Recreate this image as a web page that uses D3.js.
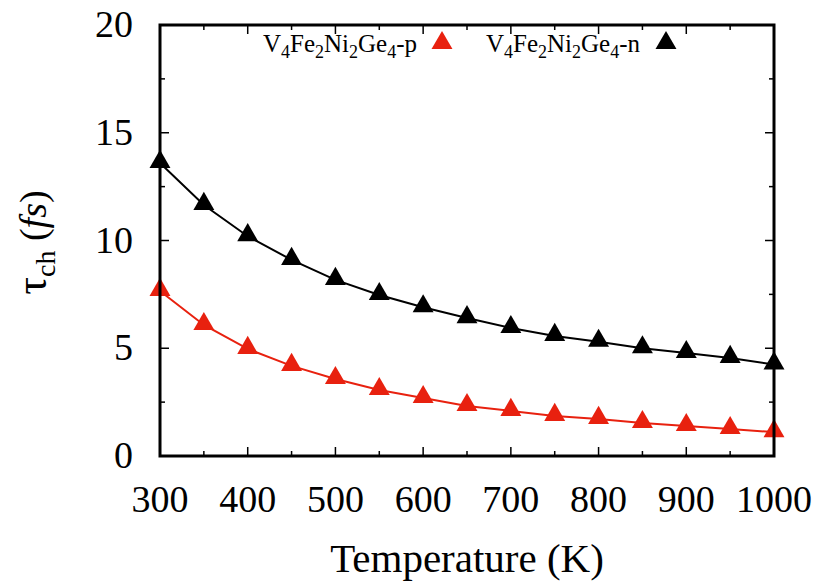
<!DOCTYPE html>
<html>
<head>
<meta charset="utf-8">
<script src="https://d3js.org/d3.v7.min.js"></script>
<style>
  body { margin: 0; background: #fff; }
</style>
</head>
<body>
<div id="chart"></div>
<script>
// data
var temps = [300, 350, 400, 450, 500, 550, 600, 650, 700, 750, 800, 850, 900, 950, 1000];
var tauP = [7.66, 6.08, 4.97, 4.18, 3.57, 3.06, 2.69, 2.32, 2.09, 1.86, 1.72, 1.53, 1.39, 1.25, 1.11];
var tauN = [13.6, 11.65, 10.2, 9.1, 8.17, 7.47, 6.9, 6.4, 5.94, 5.57, 5.3, 5.0, 4.78, 4.55, 4.25];
var xTicks = [300, 400, 500, 600, 700, 800, 900, 1000];
var yTicks = [0, 5, 10, 15, 20];

var W = 824, H = 581;
var margin = {top: 25, right: 50, bottom: 125, left: 160},
    width = W - margin.left - margin.right,
    height = H - margin.top - margin.bottom;
var serif = "'Liberation Serif', 'Times New Roman', Times, 'DejaVu Serif', serif";

var svg = d3.select("#chart")
  .append("svg")
  .attr("width", W)
  .attr("height", H)
  .attr("font-family", serif)
  .append("g")
  .attr("transform", "translate(" + margin.left + "," + margin.top + ")");

var x = d3.scaleLinear().domain([300, 1000]).range([0, width]);
var y = d3.scaleLinear().domain([0, 20]).range([height, 0]);

// inward ticks, major + minor, on all four sides
var xMinor = d3.range(350, 1000, 100);
var yMinor = d3.range(2.5, 20, 5);
function tickMarks(vals, len, horiz) {
  vals.forEach(function(v) {
    if (horiz) {
      svg.append("line").attr("x1", x(v)).attr("x2", x(v)).attr("y1", height).attr("y2", height - len).attr("stroke", "#000").attr("stroke-width", 1.5);
      svg.append("line").attr("x1", x(v)).attr("x2", x(v)).attr("y1", 0).attr("y2", len).attr("stroke", "#000").attr("stroke-width", 1.5);
    } else {
      svg.append("line").attr("y1", y(v)).attr("y2", y(v)).attr("x1", 0).attr("x2", len).attr("stroke", "#000").attr("stroke-width", 1.5);
      svg.append("line").attr("y1", y(v)).attr("y2", y(v)).attr("x1", width).attr("x2", width - len).attr("stroke", "#000").attr("stroke-width", 1.5);
    }
  });
}
tickMarks(xTicks, 9, true);
tickMarks(xMinor, 5, true);
tickMarks(yTicks, 9, false);
tickMarks(yMinor, 5, false);

// tick labels
svg.append("g").selectAll("text").data(xTicks).enter().append("text")
  .attr("x", function(d) { return x(d); })
  .attr("y", height + 56)
  .attr("text-anchor", "middle")
  .attr("font-family", serif)
  .style("font-size", "38px")
  .text(function(d) { return d; });

svg.append("g").selectAll("text").data(yTicks).enter().append("text")
  .attr("x", -27)
  .attr("y", function(d) { return y(d) + 12; })
  .attr("text-anchor", "end")
  .attr("font-family", serif)
  .style("font-size", "38px")
  .text(function(d) { return d; });

// lines and markers
var line = d3.line()
  .x(function(d, i) { return x(temps[i]); })
  .y(function(d) { return y(d); });

var tri = d3.symbol().type(d3.symbolTriangle).size(190);

function series(vals, color) {
  svg.append("path")
    .datum(vals)
    .attr("fill", "none")
    .attr("stroke", color)
    .attr("stroke-width", 2)
    .attr("d", line);
  svg.append("g").selectAll("path").data(vals).enter().append("path")
    .attr("d", tri)
    .attr("transform", function(d, i) { return "translate(" + x(temps[i]) + "," + (y(d) - 1) + ")"; })
    .attr("fill", color);
}
series(tauP, "#e8210f");
series(tauN, "#000000");

// frame
svg.append("rect")
  .attr("width", width).attr("height", height)
  .attr("fill", "none").attr("stroke", "#000").attr("stroke-width", 3);

// legend
function legendEntry(tx, mx, color, last) {
  var t = svg.append("text")
    .attr("x", tx).attr("y", 27)
    .attr("text-anchor", "end")
    .attr("font-family", serif)
    .style("font-size", "25px");
  t.append("tspan").text("V");
  t.append("tspan").attr("dy", 6).style("font-size", "18px").text("4");
  t.append("tspan").attr("dy", -6).text("Fe");
  t.append("tspan").attr("dy", 6).style("font-size", "18px").text("2");
  t.append("tspan").attr("dy", -6).text("Ni");
  t.append("tspan").attr("dy", 6).style("font-size", "18px").text("2");
  t.append("tspan").attr("dy", -6).text("Ge");
  t.append("tspan").attr("dy", 6).style("font-size", "18px").text("4");
  t.append("tspan").attr("dy", -6).text("-" + last);
  svg.append("path").attr("d", tri)
    .attr("transform", "translate(" + mx + ",18)")
    .attr("fill", color);
}
legendEntry(257, 282, "#e8210f", "p");
legendEntry(480, 506, "#000000", "n");

// axis titles
svg.append("text")
  .attr("x", width / 2)
  .attr("y", height + 116)
  .attr("text-anchor", "middle")
  .attr("font-family", serif)
  .style("font-size", "41px")
  .text("Temperature (K)");

var yl = svg.append("text")
  .attr("transform", "translate(-114," + (height / 2 + 2) + ") rotate(-90)")
  .attr("text-anchor", "middle")
  .attr("font-family", serif)
  .style("font-size", "38px");
yl.append("tspan").style("font-size", "44px").text("τ");
yl.append("tspan").attr("dy", 9).style("font-size", "28px").text("ch");
yl.append("tspan").attr("dy", -9).text(" (");
yl.append("tspan").style("font-style", "italic").text("fs");
yl.append("tspan").text(")");
</script>
</body>
</html>
